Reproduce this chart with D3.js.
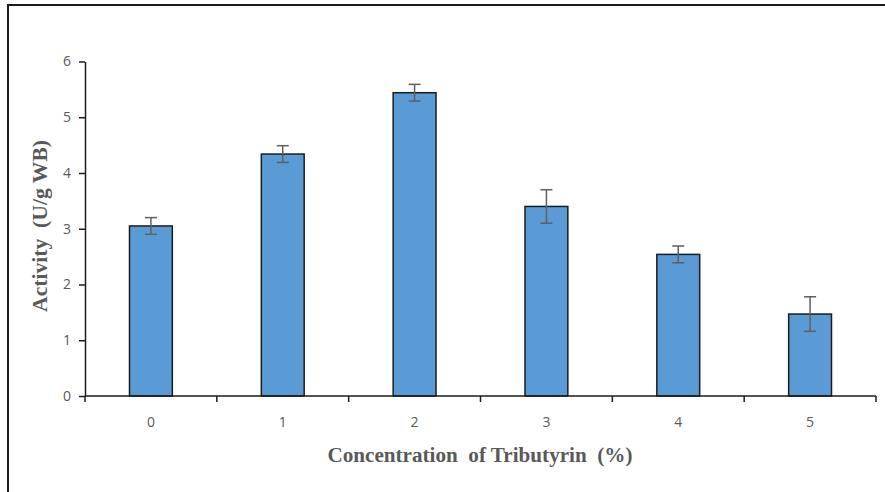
<!DOCTYPE html>
<html><head><meta charset="utf-8">
<script src="https://cdn.jsdelivr.net/npm/d3@7"></script>
<style>body{margin:0;background:#fff}svg{display:block}</style>
</head><body>
<script>
const categories = ["0","1","2","3","4","5"];
const values = [3.05, 4.34, 5.44, 3.40, 2.54, 1.47];
const errors = [0.15, 0.15, 0.15, 0.30, 0.15, 0.31];
const yTicks = [0,1,2,3,4,5,6];

const W = 885, H = 492;
const svg = d3.select("body").append("svg").attr("width", W).attr("height", H);

// outer frame (top + left visible)
svg.append("path").attr("d", `M8,${H+5}V5H${W+5}`).attr("fill","none").attr("stroke","#1a1a1a").attr("stroke-width",2);

const x = d3.scaleBand().domain(categories).range([85, 876]).paddingInner(0.675).paddingOuter(0.3375);
const y = d3.scaleLinear().domain([0, 6]).range([396, 61.5]);

// bars
svg.selectAll("rect.bar").data(values).join("rect").attr("class","bar")
  .attr("x", (d,i) => x(categories[i]))
  .attr("y", d => y(d))
  .attr("width", x.bandwidth())
  .attr("height", d => y(0) - y(d))
  .attr("fill", "#5B9BD5").attr("stroke", "#1c1c1c").attr("stroke-width", 1.5);

// error bars
const eg = svg.append("g").attr("stroke","#5f5f5f").attr("stroke-width",1.5);
values.forEach((v,i) => {
  const cx = x(categories[i]) + x.bandwidth()/2;
  eg.append("line").attr("x1",cx).attr("x2",cx).attr("y1",y(v+errors[i])).attr("y2",y(v-errors[i]));
  eg.append("line").attr("x1",cx-6).attr("x2",cx+6).attr("y1",y(v+errors[i])).attr("y2",y(v+errors[i]));
  eg.append("line").attr("x1",cx-6).attr("x2",cx+6).attr("y1",y(v-errors[i])).attr("y2",y(v-errors[i]));
});

// y axis
const ya = svg.append("g").attr("transform","translate(85,0)")
  .call(d3.axisLeft(y).tickValues(yTicks).tickFormat(d3.format("d")).tickSize(6).tickSizeOuter(0).tickPadding(8));
ya.select(".domain").attr("stroke","#1c1c1c").attr("stroke-width",1.5);
ya.selectAll(".tick line").attr("stroke","#1c1c1c").attr("stroke-width",1.5);
ya.selectAll(".tick text").attr("fill","#595959").attr("font-family","'Open Sans', 'Liberation Sans', sans-serif").attr("font-size",14);

// x axis
const xa = svg.append("g").attr("transform","translate(0,396)");
xa.append("line").attr("x1",85).attr("x2",876).attr("stroke","#1c1c1c").attr("stroke-width",1.5);
const step = x.step();
const bounds = d3.range(categories.length+1).map(i => 85 + i*step);
xa.selectAll("line.tk").data(bounds).join("line").attr("class","tk")
  .attr("x1",d=>d).attr("x2",d=>d).attr("y1",0).attr("y2",6)
  .attr("stroke","#1c1c1c").attr("stroke-width",1.5);
xa.selectAll("text").data(categories).join("text")
  .attr("x", d => x(d) + x.bandwidth()/2).attr("y", 31)
  .attr("text-anchor","middle").attr("fill","#595959")
  .attr("font-family","'Open Sans', 'Liberation Sans', sans-serif").attr("font-size",14)
  .text(d=>d);

// axis titles
svg.append("text").attr("x",480).attr("y",462).attr("text-anchor","middle")
  .attr("font-family","'Liberation Serif', 'Times New Roman', serif").attr("font-weight","bold")
  .attr("font-size",20).attr("fill","#595959").attr("xml:space","preserve")
  .attr("textLength",305).attr("lengthAdjust","spacingAndGlyphs")
  .text("Concentration  of Tributyrin  (%)");
svg.append("text").attr("transform","translate(47,226) rotate(-90)").attr("text-anchor","middle")
  .attr("font-family","'Liberation Serif', 'Times New Roman', serif").attr("font-weight","bold")
  .attr("font-size",20).attr("fill","#595959").attr("xml:space","preserve")
  .attr("textLength",172).attr("lengthAdjust","spacingAndGlyphs")
  .text("Activity  (U/g WB)");
</script>
</body></html>
